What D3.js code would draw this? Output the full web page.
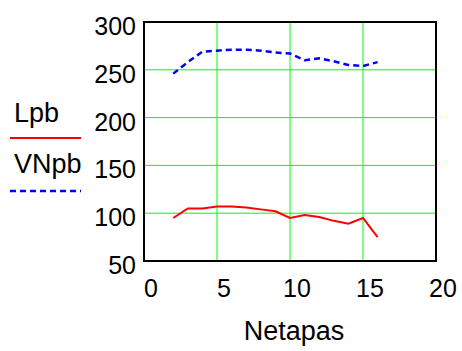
<!DOCTYPE html>
<html>
<head>
<meta charset="utf-8">
<script src="https://cdn.jsdelivr.net/npm/d3@7"></script>
<style>
  body { margin: 0; background: #fff; }
  text { font-family: "Liberation Sans", Arial, sans-serif; fill: #000; }
</style>
</head>
<body>
<script>
// Daten
var netapas = [2, 3, 4, 5, 6, 7, 8, 9, 10, 11, 12, 13, 14, 15, 16];
var lpb  = [95, 105, 105, 107, 107, 106, 104, 102, 95, 98, 96, 92, 89, 95, 75];
var vnpb = [246, 258, 269, 270, 271, 271, 270, 268, 267, 260, 262, 259, 255, 254, 258];
var xTicks = [0, 5, 10, 15, 20];
var yTicks = [50, 100, 150, 200, 250, 300];

var W = 462, H = 351;
var pLeft = 144, pRight = 436, pTop = 22, pBottom = 261;

var svg = d3.select('body').append('svg')
  .attr('width', W)
  .attr('height', H);

var x = d3.scaleLinear().domain([0, 20]).range([pLeft, pRight]);
var y = d3.scaleLinear().domain([50, 300]).range([pBottom, pTop]);

// Gitterlinien
svg.selectAll('.vgrid')
  .data(xTicks.slice(1, -1))
  .enter().append('line')
  .attr('x1', function(d) { return x(d); })
  .attr('x2', function(d) { return x(d); })
  .attr('y1', pTop)
  .attr('y2', pBottom)
  .attr('stroke', '#00ff00')
  .attr('stroke-width', 1);

svg.selectAll('.hgrid')
  .data(yTicks.slice(1, -1))
  .enter().append('line')
  .attr('x1', pLeft)
  .attr('x2', pRight)
  .attr('y1', function(d) { return y(d); })
  .attr('y2', function(d) { return y(d); })
  .attr('stroke', '#00ff00')
  .attr('stroke-width', 1);

// Rahmen
svg.append('rect')
  .attr('x', pLeft)
  .attr('y', pTop)
  .attr('width', pRight - pLeft)
  .attr('height', pBottom - pTop)
  .attr('fill', 'none')
  .attr('stroke', '#000')
  .attr('stroke-width', 2);

// Achsenbeschriftungen
svg.selectAll('.xlab')
  .data(xTicks)
  .enter().append('text')
  .attr('x', function(d) { return x(d) + 7; })
  .attr('y', 297)
  .attr('text-anchor', 'middle')
  .style('font-size', '25px')
  .text(function(d) { return d; });

svg.selectAll('.ylab')
  .data(yTicks)
  .enter().append('text')
  .attr('x', 136)
  .attr('y', function(d) { return y(d) + 13; })
  .attr('text-anchor', 'end')
  .style('font-size', '25px')
  .text(function(d) { return d; });

svg.append('text')
  .attr('x', 294)
  .attr('y', 340)
  .attr('text-anchor', 'middle')
  .style('font-size', '27px')
  .text('Netapas');

// Linien
var line = d3.line()
  .x(function(d, i) { return x(netapas[i]); })
  .y(function(d) { return y(d); });

svg.append('path')
  .datum(lpb)
  .attr('d', line)
  .attr('fill', 'none')
  .attr('stroke', '#ff0000')
  .attr('stroke-width', 2);

svg.append('path')
  .datum(vnpb)
  .attr('d', line)
  .attr('fill', 'none')
  .attr('stroke', '#0000ff')
  .attr('stroke-width', 2.5)
  .attr('stroke-dasharray', '6,4');

// Legende
svg.append('text').attr('x', 14).attr('y', 122).style('font-size', '27px').text('Lpb');
svg.append('line')
  .attr('x1', 10).attr('x2', 81).attr('y1', 138).attr('y2', 138)
  .attr('stroke', '#ff0000').attr('stroke-width', 2);

svg.append('text').attr('x', 14).attr('y', 173).style('font-size', '27px').text('VNpb');
svg.append('line')
  .attr('x1', 10).attr('x2', 81).attr('y1', 191).attr('y2', 191)
  .attr('stroke', '#0000ff').attr('stroke-width', 2.5)
  .attr('stroke-dasharray', '6,4');
</script>
</body>
</html>
